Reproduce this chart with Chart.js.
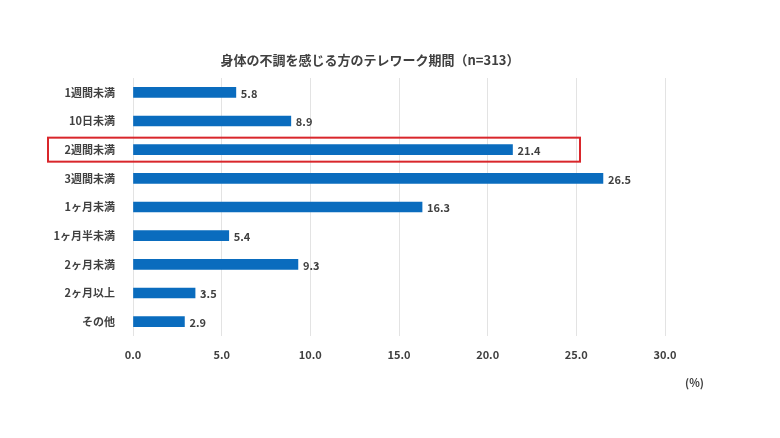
<!DOCTYPE html>
<html>
<head>
<meta charset="utf-8">
<script src="https://cdn.jsdelivr.net/npm/chart.js@4"></script>
<style>
  html, body { margin: 0; padding: 0; background: #fff; }
  #wrap { width: 780px; height: 438px; }
</style>
</head>
<body>
<div id="wrap"><canvas id="chart" width="780" height="438"></canvas></div>
<script>
// ========================== DATA ==========================
const categories = ["1週間未満", "10日未満", "2週間未満", "3週間未満", "1ヶ月未満", "1ヶ月半未満", "2ヶ月未満", "2ヶ月以上", "その他"];
const values = [5.8, 8.9, 21.4, 26.5, 16.3, 5.4, 9.3, 3.5, 2.9];
const xTicks = [0, 5, 10, 15, 20, 25, 30];
const titleText = "身体の不調を感じる方のテレワーク期間（n=313）";
const highlightIndex = 2;

const FONT = "'Noto Sans CJK JP', 'Noto Sans', sans-serif";
const TEXT = "#404040";

// ========================== PLUGINS ==========================
const extras = {
  id: "extras",
  afterDatasetsDraw(chart) {
    const { ctx, scales: { x, y } } = chart;
    const meta = chart.getDatasetMeta(0);
    ctx.save();
    ctx.font = "bold 11px " + FONT;
    ctx.fillStyle = TEXT;
    ctx.textBaseline = "middle";
    ctx.textAlign = "left";
    meta.data.forEach((bar, i) => {
      ctx.fillText(values[i].toFixed(1), bar.x + 5, bar.y + 1);
    });

    // title
    ctx.font = "bold 13px " + FONT;
    ctx.textAlign = "center";
    ctx.fillText(titleText, 370, 60);

    // unit
    ctx.font = "bold 11px " + FONT;
    ctx.textAlign = "left";
    ctx.fillText("(%)", x.getPixelForValue(30) + 20, x.bottom + 17);

    // highlight box
    const yc = y.getPixelForValue(highlightIndex);
    ctx.strokeStyle = "#d9262b";
    ctx.lineWidth = 2;
    ctx.strokeRect(48, yc - 12, 532, 24);
    ctx.restore();
  }
};

// ========================== CHART ==========================
new Chart(document.getElementById("chart"), {
  type: "bar",
  data: {
    labels: categories,
    datasets: [{
      data: values,
      backgroundColor: "#0a6cbe",
      barThickness: 10
    }]
  },
  options: {
    indexAxis: "y",
    responsive: false,
    animation: false,
    layout: { padding: { top: 78, right: 115, bottom: 72, left: 0 } },
    plugins: { legend: { display: false }, tooltip: { enabled: false } },
    scales: {
      x: {
        min: 0, max: 30,
        afterBuildTicks(s) { s.ticks = xTicks.map(v => ({ value: v })); },
        afterFit(s) { s.height = 30; },
        grid: { color: "#e3e3e3", drawTicks: false },
        border: { display: false },
        ticks: {
          padding: 12,
          color: TEXT,
          font: { family: FONT, size: 11, weight: "bold" },
          callback: v => v.toFixed(1)
        }
      },
      y: {
        afterFit(s) { s.width = 133; },
        grid: { display: false },
        border: { display: false },
        ticks: {
          padding: 10,
          color: TEXT,
          font: { family: FONT, size: 11, weight: "bold" }
        }
      }
    }
  },
  plugins: [extras]
});
</script>
</body>
</html>
